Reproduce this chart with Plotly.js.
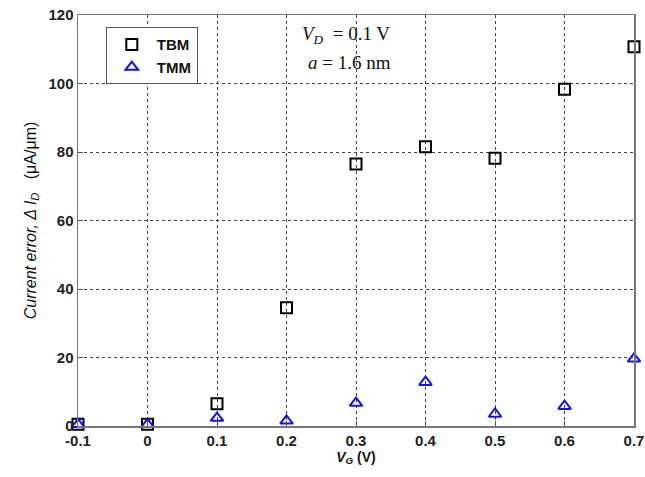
<!DOCTYPE html>
<html><head><meta charset="utf-8">
<script src="https://cdn.plot.ly/plotly-3.0.1.min.js"></script>
<style>body{margin:0;background:#fff}#c{width:645px;height:477px}</style>
</head><body><div id="c"></div>
<script>
const vg = [-0.1, 0, 0.1, 0.2, 0.3, 0.4, 0.5, 0.6, 0.7];
const tbm = [0.5, 0.5, 6.5, 34.5, 76.5, 81.5, 78.2, 98.3, 110.7];
const tmm = [0.5, 0.5, 2.3, 1.5, 6.7, 12.8, 3.5, 5.8, 19.6];
const xTicks = [-0.1, 0, 0.1, 0.2, 0.3, 0.4, 0.5, 0.6, 0.7];
const xTickText = ['<b>-0.1</b>','<b>0</b>','<b>0.1</b>','<b>0.2</b>','<b>0.3</b>','<b>0.4</b>','<b>0.5</b>','<b>0.6</b>','<b>0.7</b>'];
const yTicks = [0, 20, 40, 60, 80, 100, 120];
const yTickText = ['<b>0</b>','<b>20</b>','<b>40</b>','<b>60</b>','<b>80</b>','<b>100</b>','<b>120</b>'];

const tickFont = {family: 'Liberation Sans Narrow, Arial Narrow, Liberation Sans, Arial', size: 15, color: '#222'};
const traces = [
  {x: vg, y: tbm, name: '<b>TBM</b>', mode: 'markers', type: 'scatter', cliponaxis: false,
   marker: {symbol: 'square-open', size: 11, color: '#000', line: {width: 2, color: '#000'}}},
  {x: vg, y: tmm, name: '<b>TMM</b>', mode: 'markers', type: 'scatter', cliponaxis: false,
   marker: {symbol: 'triangle-up-open', size: 11, color: '#1010ff', line: {width: 2, color: '#1010ff'}}}
];
const layout = {
  width: 645, height: 477,
  margin: {l: 78, r: 11, t: 15, b: 51},
  paper_bgcolor: '#fff', plot_bgcolor: '#fff',
  showlegend: true,
  legend: {x: 0.05, y: 0.97, xanchor: 'left', yanchor: 'top', bgcolor: '#fff',
    bordercolor: '#555', borderwidth: 1, font: {family: 'Liberation Sans, Arial', size: 15, color: '#111'},
    itemwidth: 40, tracegroupgap: 0},
  xaxis: {range: [-0.1, 0.7], tickvals: xTicks, ticktext: xTickText,
    showgrid: true, gridcolor: '#444', griddash: 'dot', gridwidth: 1,
    showline: true, linecolor: '#777', linewidth: 1.5, mirror: true,
    ticks: 'inside', ticklen: 5, tickcolor: '#555', zeroline: false,
    tickfont: tickFont,
    title: {text: '<b><i>V<sub>G</sub></i> (V)</b>', font: {family: 'Liberation Sans, Arial', size: 14, color: '#111'}, standoff: 4}},
  yaxis: {range: [0, 120], tickvals: yTicks, ticktext: yTickText,
    showgrid: true, gridcolor: '#444', griddash: 'dot', gridwidth: 1,
    showline: true, linecolor: '#777', linewidth: 1.5, mirror: true,
    ticks: 'inside', ticklen: 5, tickcolor: '#555', zeroline: false,
    tickfont: tickFont,
    title: {text: '<i>Current error, Δ I<sub>D</sub></i>   (μA/μm)', font: {family: 'Liberation Sans, Arial', size: 16, color: '#111'}, standoff: 8}},
  annotations: [
    {xref: 'paper', yref: 'paper', x: 0.4, y: 0.985, xanchor: 'left', yanchor: 'top', showarrow: false,
     text: '<i>V<sub>D</sub></i>  = 0.1 V', font: {family: 'Liberation Serif, Times New Roman', size: 19, color: '#111'}},
    {xref: 'paper', yref: 'paper', x: 0.41, y: 0.915, xanchor: 'left', yanchor: 'top', showarrow: false,
     text: '<i>a</i> = 1.6 nm', font: {family: 'Liberation Serif, Times New Roman', size: 19, color: '#111'}}
  ]
};
Plotly.newPlot('c', traces, layout, {displayModeBar: false, staticPlot: true});
</script></body></html>
